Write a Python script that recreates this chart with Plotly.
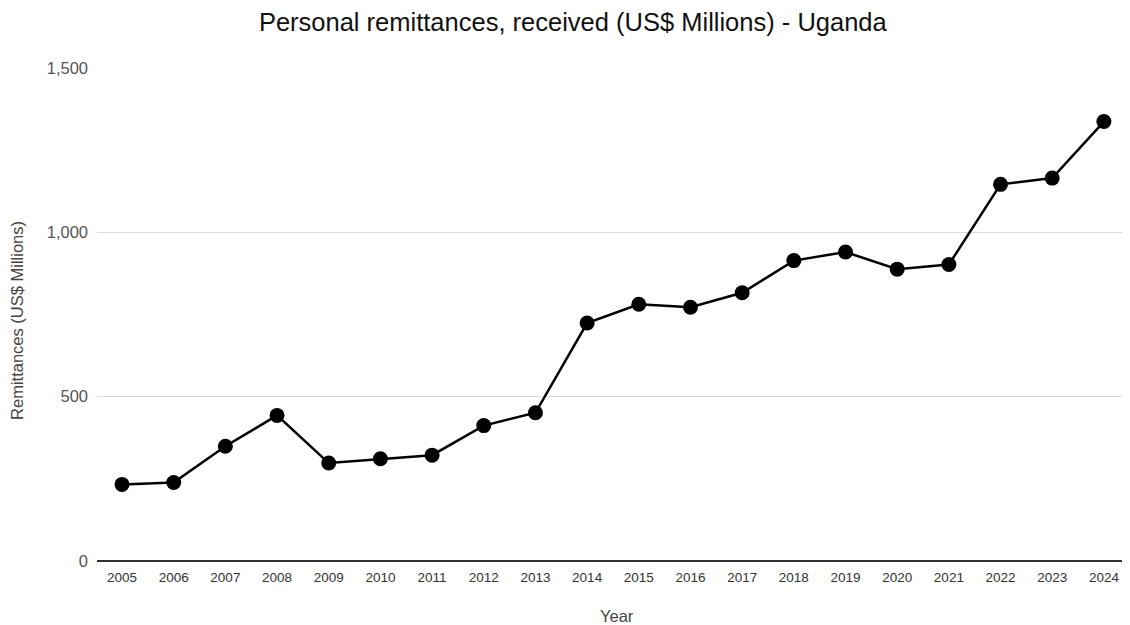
import plotly.graph_objects as go

years = [str(y) for y in range(2005, 2025)]
remittances = [233, 239, 349, 443, 298, 311, 322, 412, 451, 724,
               781, 772, 816, 914, 940, 888, 902, 1146, 1165, 1337]
y_ticks = [0, 500, 1000, 1500]
y_tick_labels = ["0", "500", "1,000", "1,500"]

fig = go.Figure()
fig.add_trace(go.Scatter(
    x=years, y=remittances, mode="lines+markers",
    line=dict(color="#000000", width=2.5),
    marker=dict(color="#000000", size=15),
    showlegend=False,
))

fig.update_layout(
    width=1114, height=617,
    margin=dict(l=89, r=0, t=60, b=64),
    paper_bgcolor="white", plot_bgcolor="white",
    font=dict(family="Liberation Sans, Arial, sans-serif", color="#444444"),
    title=dict(text="Personal remittances, received (US$ Millions) - Uganda",
               x=0.507, xanchor="center", y=0.977, yanchor="middle",
               font=dict(size=25.5, color="#111111")),
    xaxis=dict(
        type="category", range=[-0.484, 19.35],
        showgrid=False, showline=False, ticks="",
        ticklabelstandoff=6, automargin=False,
        tickfont=dict(size=13.5, color="#333333"),
        fixedrange=True,
    ),
    yaxis=dict(
        range=[0, 1500], tickvals=y_ticks, ticktext=y_tick_labels,
        showgrid=True, gridcolor="#d9d9d9", gridwidth=1,
        zeroline=True, zerolinecolor="#333333", zerolinewidth=2,
        ticks="", ticklabelstandoff=8, automargin=False,
        tickfont=dict(size=16.5, color="#555555"),
        fixedrange=True,
    ),
    annotations=[
        dict(text="Remittances (US$ Millions)", textangle=-90,
             xref="paper", yref="paper", x=-0.078, y=0.487,
             xanchor="center", yanchor="middle", showarrow=False,
             font=dict(size=16.5, color="#444444")),
        dict(text="Year", xref="paper", yref="paper", x=0.507, y=-0.112,
             xanchor="center", yanchor="middle", showarrow=False,
             font=dict(size=16.5, color="#444444")),
    ],
)

fig.write_html("out.html", config={"displayModeBar": False})
